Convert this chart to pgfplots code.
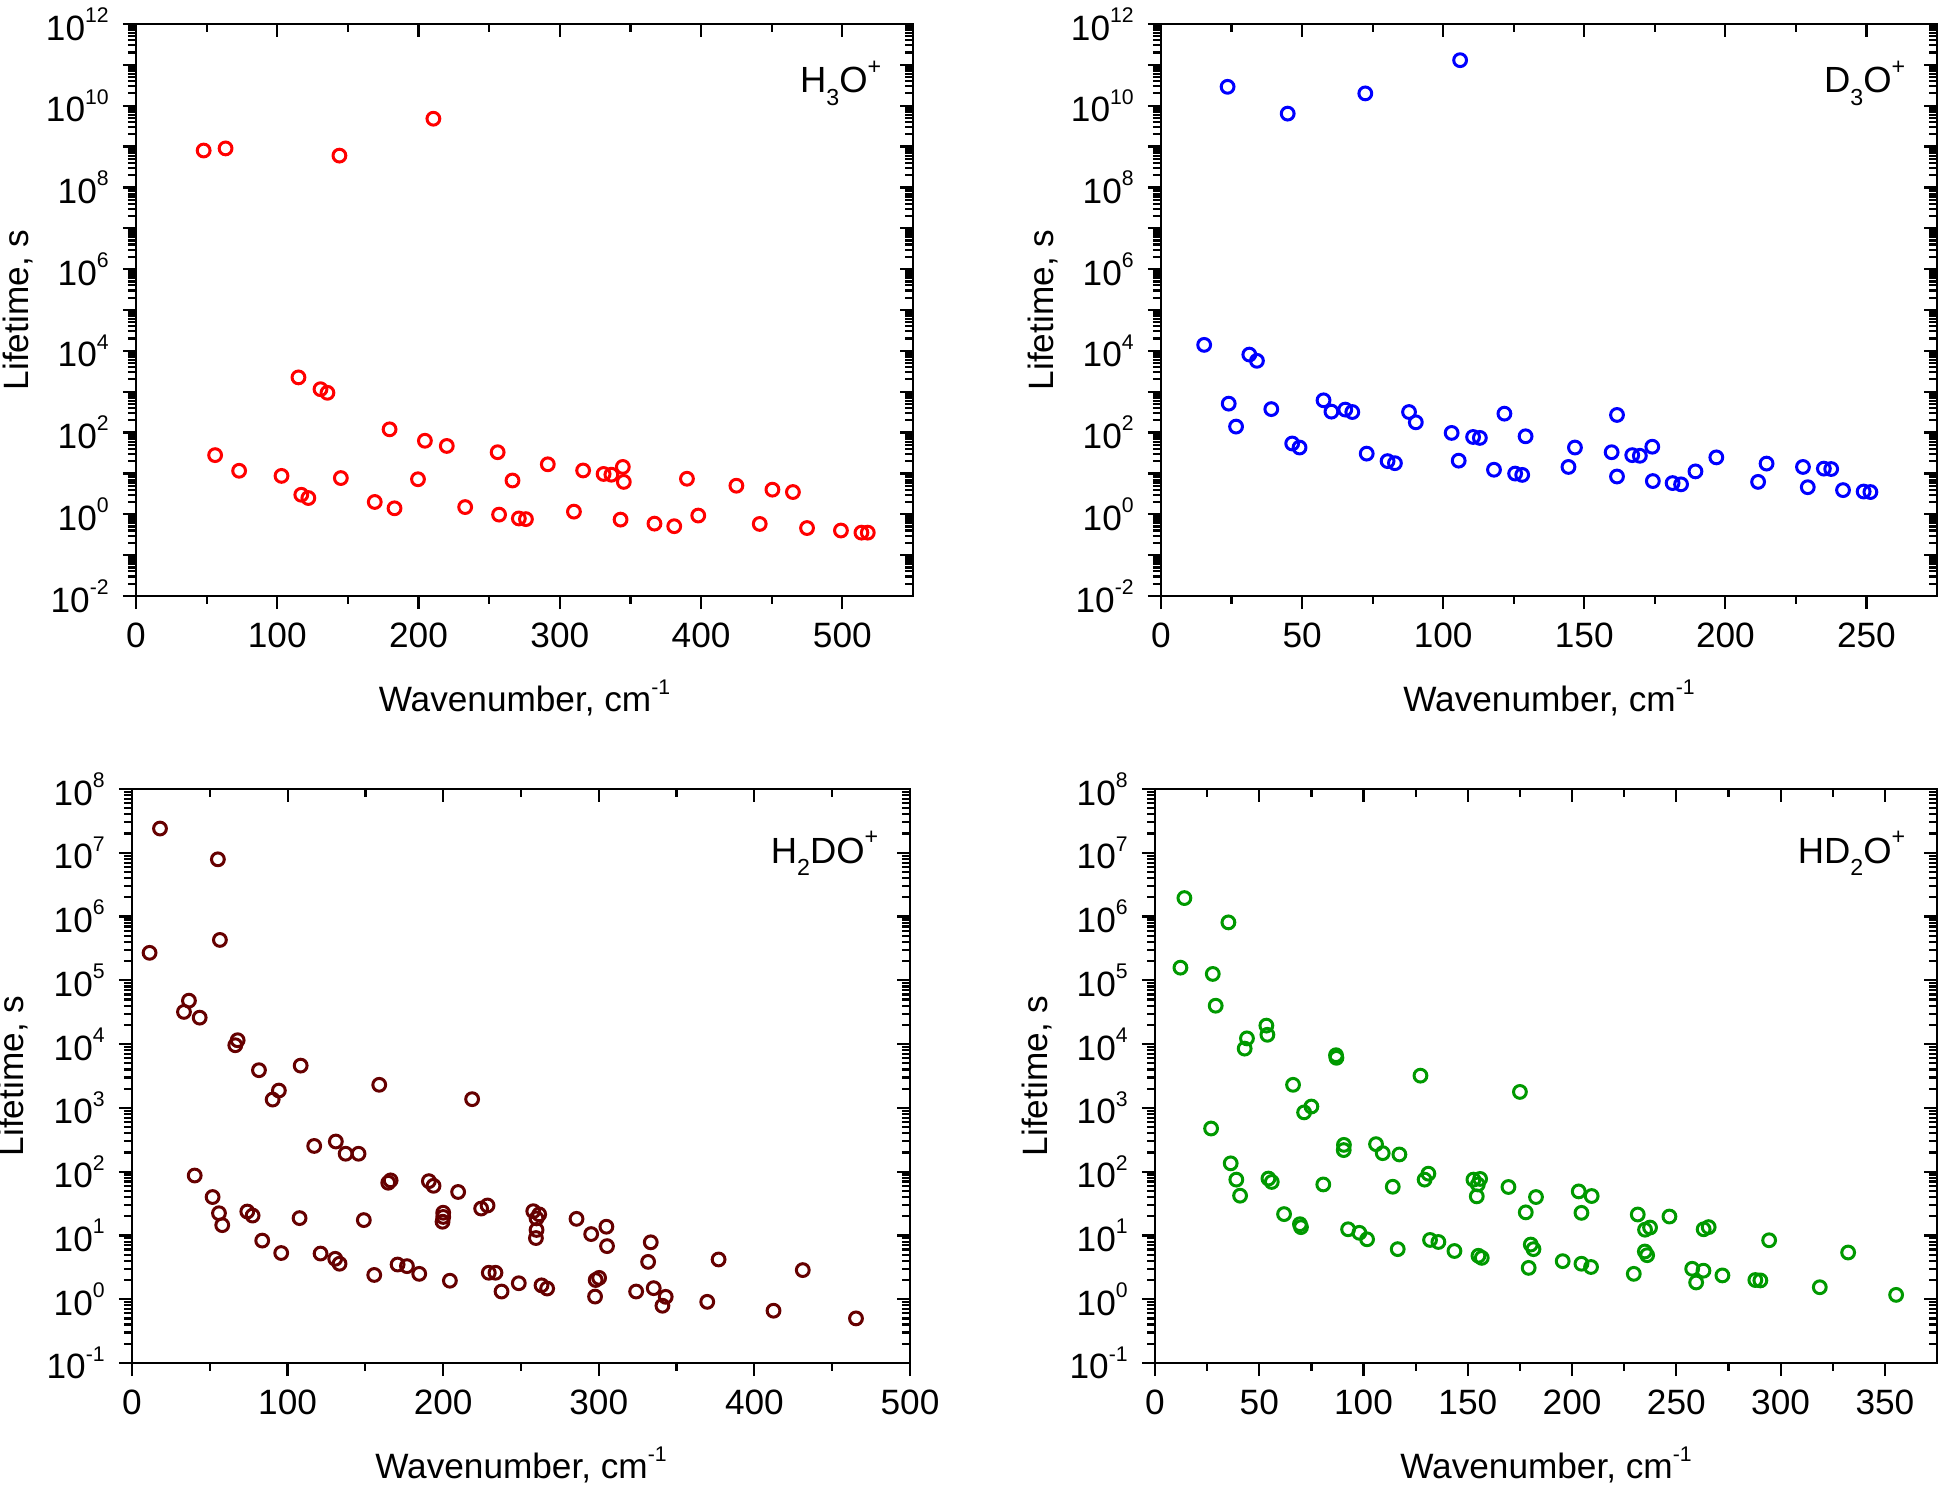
\documentclass[border=0pt]{standalone}
\usepackage{fontspec}
\setmainfont{Liberation Sans}
\usepackage{pgfplots}
\pgfplotsset{compat=1.18}
\pgfplotsset{/pgf/number format/assume math mode=true}

\definecolor{cHthree}{RGB}{255,0,0}
\definecolor{cDthree}{RGB}{0,0,255}
\definecolor{cHtwoD}{RGB}{102,0,0}
\definecolor{cHDtwo}{RGB}{0,153,0}

\newcommand{\sz}{\fontsize{8.8}{10}\selectfont}
\newcommand{\lz}{\fontsize{9.1}{10}\selectfont}
\newcommand{\sps}[1]{\raisebox{4.4pt}{\fontsize{5.3}{6}\selectfont #1}}
\newcommand{\tp}[1]{10\sps{#1}}
\newcommand{\sub}[1]{\raisebox{-3.2pt}{\fontsize{5.8}{6}\selectfont #1}}
\newcommand{\lsup}[1]{\raisebox{4.6pt}{\fontsize{5.8}{6}\selectfont #1}}

% minor log tick lists (2..9 in every decade)
\gdef\minA{}
\foreach \e in {-2,...,11}{\foreach \m in {2,...,9}{%
  \ifx\minA\empty\xdef\minA{\m e\e}\else\xdef\minA{\minA,\m e\e}\fi}}
\gdef\minB{}
\foreach \e in {-1,...,7}{\foreach \m in {2,...,9}{%
  \ifx\minB\empty\xdef\minB{\m e\e}\else\xdef\minB{\minB,\m e\e}\fi}}

\pgfplotsset{every axis/.append style={scale only axis,
    axis line style={line width=0.65pt},
    major tick length=3.3pt, minor tick length=2pt,
    minor x tick num=1,
    tick label style={font=\sz}, label style={font=\sz}},
  every tick/.append style={black, line width=0.55pt}}

\begin{document}
\begin{tikzpicture}
\useasboundingbox (0,0) rectangle (485.5pt,372pt);

% ---------------- H3O+ ----------------
\begin{axis}[ymode=log, at={(34pt,223pt)}, anchor=south west, width=194.25pt, height=143pt,
  xmin=0, xmax=550, xtick={0,100,...,500}, ymin=1e-2, ymax=1e12, ytickten={-2,...,12},
  minor ytick/.expanded={\minA},
  xtick pos=left, ytick pos=left, tick align=outside,
  xlabel={Wavenumber, cm\sps{-1}}, ylabel={Lifetime, s},
  xlabel style={at={([yshift=-29pt]axis description cs:0.5,0)}, anchor=base},
  ylabel style={at={([xshift=-27pt]axis description cs:0,0.5)}, anchor=base},
  yticklabels={\tp{-2},,\tp{0},,\tp{2},,\tp{4},,\tp{6},,\tp{8},,\tp{10},,\tp{12}}]
\addplot[only marks, mark=o, mark size=1.6pt, mark options={line width=0.75pt, solid}, draw=cHthree] coordinates {
(47.9,8.0e8) (63.4,9.0e8) (144,6.0e8) (210.5,4.8e9)
(115,2240) (130.6,1150) (135.5,940) (179.5,120) (204.5,63) (220,47) (256,33)
(291.5,16.7) (316.5,11.8) (331,9.7) (336.5,9.3) (344.6,14.4) (345.3,6.2)
(390,7.4) (425,5.0) (450.5,4.0) (465,3.5)
(56,28) (73,11.6) (103,8.7) (117,3.0) (122,2.5) (145,7.7) (169,2.0) (183,1.4)
(199.6,7.2) (233,1.5) (257,0.98) (266.5,6.7) (271,0.79) (276,0.76) (310,1.16)
(343,0.74) (367,0.59) (381,0.51) (398,0.93) (441.5,0.58) (475,0.46) (499,0.40)
(513.5,0.355) (518,0.355)
};
\node[anchor=base east, inner sep=0pt, font=\lz] at ([xshift=-7.75pt,yshift=-17.25pt]rel axis cs:1,1) {H\sub{3}O\lsup{+}};
\end{axis}
\begin{axis}[ymode=log, at={(34pt,223pt)}, anchor=south west, width=194.25pt, height=143pt,
  xmin=0, xmax=550, xtick={0,100,...,500}, ymin=1e-2, ymax=1e12, ytickten={-2,...,12},
  minor ytick/.expanded={\minA},
  xtick pos=right, ytick pos=right, tick align=inside, xticklabels={}, yticklabels={}]
\addplot[draw=none, forget plot] coordinates {(100,1)};
\end{axis}

% ---------------- D3O+ ----------------
\begin{axis}[ymode=log, at={(290.25pt,223pt)}, anchor=south west, width=194pt, height=143pt,
  xmin=0, xmax=275, xtick={0,50,...,250}, ymin=1e-2, ymax=1e12, ytickten={-2,...,12},
  minor ytick/.expanded={\minA},
  xtick pos=left, ytick pos=left, tick align=outside,
  xlabel={Wavenumber, cm\sps{-1}}, ylabel={Lifetime, s},
  xlabel style={at={([yshift=-29pt]axis description cs:0.5,0)}, anchor=base},
  ylabel style={at={([xshift=-27pt]axis description cs:0,0.5)}, anchor=base},
  yticklabels={\tp{-2},,\tp{0},,\tp{2},,\tp{4},,\tp{6},,\tp{8},,\tp{10},,\tp{12}}]
\addplot[only marks, mark=o, mark size=1.6pt, mark options={line width=0.75pt, solid}, draw=cDthree] coordinates {
(23.6,2.9e10) (44.9,6.4e9) (72.4,2.0e10) (106,1.3e11)
(15.3,1.4e4) (31.3,8100) (34,5700) (24,510) (26.6,140) (39.1,375) (57.6,615)
(60.4,325) (65.3,365) (67.8,318) (46.5,54) (49.1,43) (87.9,318) (90.3,178)
(72.9,30.5) (80.3,20) (82.9,17.8) (103,98) (105.5,20.5) (110.6,78) (113,74)
(121.7,290) (129.2,81) (118,12.3) (125.5,9.9) (128,9.2) (144.4,14.4) (146.7,43)
(159.7,33) (161.6,270) (161.6,8.4) (167,28) (169.7,27) (174.1,45) (174.3,6.5)
(181.3,5.8) (184.3,5.4) (189.4,11.2) (196.8,24.7) (211.6,6.2) (214.6,17.4)
(227.5,14.4) (229.2,4.6) (234.9,13.1) (237.5,12.8) (241.7,3.9) (249,3.6) (251.4,3.5)
};
\node[anchor=base east, inner sep=0pt, font=\lz] at ([xshift=-7.75pt,yshift=-17.25pt]rel axis cs:1,1) {D\sub{3}O\lsup{+}};
\end{axis}
\begin{axis}[ymode=log, at={(290.25pt,223pt)}, anchor=south west, width=194pt, height=143pt,
  xmin=0, xmax=275, xtick={0,50,...,250}, ymin=1e-2, ymax=1e12, ytickten={-2,...,12},
  minor ytick/.expanded={\minA},
  xtick pos=right, ytick pos=right, tick align=inside, xticklabels={}, yticklabels={}]
\addplot[draw=none, forget plot] coordinates {(100,1)};
\end{axis}

% ---------------- H2DO+ ----------------
\begin{axis}[ymode=log, at={(33pt,31.25pt)}, anchor=south west, width=194.5pt, height=143.5pt,
  xmin=0, xmax=500, xtick={0,100,...,500}, ymin=1e-1, ymax=1e8, ytickten={-1,...,8},
  minor ytick/.expanded={\minB},
  xtick pos=left, ytick pos=left, tick align=outside,
  xlabel={Wavenumber, cm\sps{-1}}, ylabel={Lifetime, s},
  xlabel style={at={([yshift=-29pt]axis description cs:0.5,0)}, anchor=base},
  ylabel style={at={([xshift=-27pt]axis description cs:0,0.5)}, anchor=base},
  yticklabels={\tp{-1},\tp{0},\tp{1},\tp{2},\tp{3},\tp{4},\tp{5},\tp{6},\tp{7},\tp{8}}]
\addplot[only marks, mark=o, mark size=1.6pt, mark options={line width=0.75pt, solid}, draw=cHtwoD] coordinates {
(18,2.4e7) (55.2,7.9e6) (56.5,4.3e5) (11.3,2.7e5) (36.6,4.8e4) (33.4,3.2e4)
(43.5,2.6e4) (67.9,1.15e4) (66.4,9.6e3) (81.6,3.9e3) (108.4,4.6e3) (94.4,1.87e3)
(90.4,1.35e3) (158.9,2.3e3) (218.6,1.37e3) (117.1,253) (131,297) (137.3,191)
(145.6,191) (40.3,87) (166.2,73) (164.7,67) (190.8,71) (193.8,60) (209.6,48)
(228.5,29.5) (224.4,26.4) (51.8,40) (55.9,22.3) (58,14.5) (74.1,23.7) (77.5,20.5)
(107.7,18.7) (149,17.4) (200,22.7) (200,19.5) (199.6,16.4) (257.9,24) (261.7,21.4)
(260,18.5) (260,12.2) (259.6,9.1) (83.7,8.3) (95.9,5.3) (121.2,5.2) (130.6,4.3)
(133.4,3.6) (155.7,2.4) (170.7,3.5) (176.7,3.3) (184.6,2.5) (204.3,1.95)
(229.3,2.6) (233.6,2.6) (237.5,1.32) (248.6,1.78) (263.2,1.65) (266.8,1.47)
(285.7,18.2) (295.1,10.5) (304.9,13.7) (305.3,6.8) (298,2.0) (300.2,2.16)
(297.6,1.1) (324,1.32) (333.4,7.8) (331.7,3.85) (335.3,1.49) (343,1.09)
(340.9,0.79) (369.7,0.91) (377,4.2) (412.3,0.66) (431.1,2.86) (465.3,0.5)
};
\node[anchor=base east, inner sep=0pt, font=\lz] at ([xshift=-7.75pt,yshift=-18.5pt]rel axis cs:1,1) {H\sub{2}DO\lsup{+}};
\end{axis}
\begin{axis}[ymode=log, at={(33pt,31.25pt)}, anchor=south west, width=194.5pt, height=143.5pt,
  xmin=0, xmax=500, xtick={0,100,...,500}, ymin=1e-1, ymax=1e8, ytickten={-1,...,8},
  minor ytick/.expanded={\minB},
  xtick pos=right, ytick pos=right, tick align=inside, xticklabels={}, yticklabels={}]
\addplot[draw=none, forget plot] coordinates {(100,1)};
\end{axis}

% ---------------- HD2O+ ----------------
\begin{axis}[ymode=log, at={(288.75pt,31.25pt)}, anchor=south west, width=195.5pt, height=143.5pt,
  xmin=0, xmax=375, xtick={0,50,...,350}, ymin=1e-1, ymax=1e8, ytickten={-1,...,8},
  minor ytick/.expanded={\minB},
  xtick pos=left, ytick pos=left, tick align=outside,
  xlabel={Wavenumber, cm\sps{-1}}, ylabel={Lifetime, s},
  xlabel style={at={([yshift=-29pt]axis description cs:0.5,0)}, anchor=base},
  ylabel style={at={([xshift=-27pt]axis description cs:0,0.5)}, anchor=base},
  yticklabels={\tp{-1},\tp{0},\tp{1},\tp{2},\tp{3},\tp{4},\tp{5},\tp{6},\tp{7},\tp{8}}]
\addplot[only marks, mark=o, mark size=1.6pt, mark options={line width=0.75pt, solid}, draw=cHDtwo] coordinates {
(14.1,1.95e6) (35.2,8.1e5) (12.2,1.58e5) (27.7,1.26e5) (29.1,4e4) (53.4,1.95e4)
(53.9,1.4e4) (44.1,1.23e4) (43,8.5e3) (86.8,6.7e3) (87,6.1e3) (66.2,2.3e3)
(75,1.05e3) (71.5,850) (127.3,3.2e3) (175,1.78e3) (26.9,475) (90.6,263) (90.5,218)
(106,270) (109.2,195) (117.2,186) (36.3,135) (39,75) (40.8,42) (54.4,78) (56,69)
(80.7,63) (114,58) (131.1,93) (129.3,75) (152.7,75) (155.9,77) (154.8,63)
(154.3,41) (169.5,57.5) (182.7,40) (177.8,23) (61.9,21.6) (69.5,15) (70,13.5)
(92.6,12.5) (98,11) (101.7,8.7) (116.4,6.1) (131.9,8.5) (135.9,7.9) (143.6,5.7)
(155.1,4.8) (156.7,4.45) (180.2,7.2) (181.5,6.1) (179.2,3.1) (195.5,3.95)
(203.2,49) (209.4,41.5) (204.5,22.6) (204.5,3.6) (209.1,3.2) (231.5,21.3)
(235,12.3) (237.4,13.3) (246.7,19.8) (234.9,5.6) (236,4.9) (229.6,2.5)
(257.6,3.0) (259.5,1.83) (263,2.8) (263.1,12.5) (265.5,13.5) (272.1,2.36)
(287.9,2.0) (290.3,1.97) (294.5,8.4) (318.8,1.54) (332.4,5.4) (355.4,1.17)
};
\node[anchor=base east, inner sep=0pt, font=\lz] at ([xshift=-7.75pt,yshift=-18.5pt]rel axis cs:1,1) {HD\sub{2}O\lsup{+}};
\end{axis}
\begin{axis}[ymode=log, at={(288.75pt,31.25pt)}, anchor=south west, width=195.5pt, height=143.5pt,
  xmin=0, xmax=375, xtick={0,50,...,350}, ymin=1e-1, ymax=1e8, ytickten={-1,...,8},
  minor ytick/.expanded={\minB},
  xtick pos=right, ytick pos=right, tick align=inside, xticklabels={}, yticklabels={}]
\addplot[draw=none, forget plot] coordinates {(100,1)};
\end{axis}

\end{tikzpicture}
\end{document}
